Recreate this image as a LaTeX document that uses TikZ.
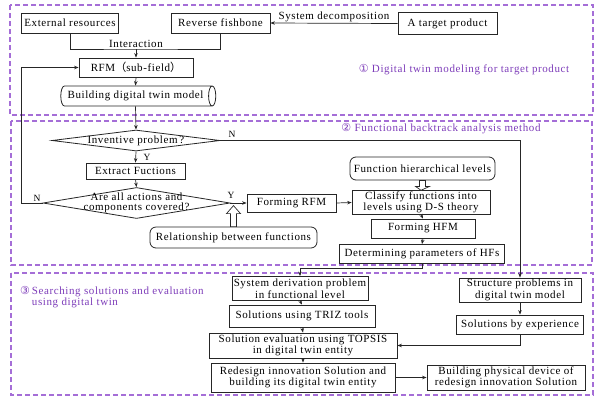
\documentclass[tikz,border=0pt]{standalone}
\usepackage{fontspec}
\setmainfont{Liberation Serif}[LetterSpace=5.5]
\newfontfamily\symf{DejaVu Sans}
\newfontfamily\cjkf{Noto Sans CJK SC}
\usetikzlibrary{arrows.meta,shapes.geometric,calc}
\definecolor{regc}{RGB}{165,110,215}
\definecolor{labc}{RGB}{125,60,185}
\begin{document}
\begin{tikzpicture}[x=1pt,y=-1pt,
  font=\fontsize{11}{11.5}\selectfont,
  box/.style={draw=black!85,line width=0.8pt,inner sep=1pt,align=center},
  rbox/.style={box,rounded corners=6pt},
  arr/.style={draw=black!85,line width=0.7pt,-{Stealth[length=4.5pt,width=3.5pt]}},
  ln/.style={draw=black!85,line width=0.7pt},
  hol/.style={draw=black!85,line width=0.7pt,fill=white},
  region/.style={draw=regc,line width=1.1pt,dash pattern=on 5pt off 3pt},
  lab/.style={text=labc},
  yn/.style={font=\fontsize{9.5}{10}\selectfont,inner sep=0pt}
]
\useasboundingbox (0,0) rectangle (600,400);
% regions
\draw[region] (10,5) rectangle (593,115);
\draw[region] (11,121) rectangle (592,265);
\draw[region] (11,273) rectangle (593,395);
\node[lab] (l1) at (464,70) {{\symf ①} Digital twin modeling for target product};
\node[lab] (l2) at (441,129) {{\symf ②} Functional backtrack analysis method};
\node[lab,anchor=north west,inner sep=0pt] (l3) at (20,286) {\begin{tabular}{@{}l@{\,}l@{}}{\symf ③}&Searching solutions and evaluation\\&using digital twin\end{tabular}};
% region 1
\node[box,minimum width=97pt,minimum height=20pt] (ext) at (70,23) {External resources};
\node[box,minimum width=99pt,minimum height=20pt] (rfb) at (220.5,23) {Reverse fishbone};
\node[box,minimum width=99pt,minimum height=22pt] (tgt) at (447.5,23.5) {A target product};
\node[box,minimum width=114pt,minimum height=19pt] (rfm) at (136,67.5) {RFM{\cjkf （}sub-field{\cjkf ）}};
\node[draw=black!85,line width=0.8pt,cylinder,shape aspect=0.6,minimum width=20pt,minimum height=155pt,inner sep=1pt] (bdt) at (135.5,96) {Building digital twin model};
\draw[arr] (tgt.west) -- node[above=0.5pt,inner sep=1pt] (sdl) {System decomposition} (rfb.east);
\coordinate (ij) at (136,49);
\draw[ln] (ext.south) |- (ij) -| (rfb.south);
\node[above=0.5pt,inner sep=1pt] (intl) at (ij) {Interaction};
\draw[arr] (ij) -- (rfm.north);
\draw[arr] (rfm.south) -- (bdt.north);
% region 2
\node[draw=black!85,line width=0.8pt,diamond,minimum width=168pt,minimum height=21pt,inner sep=0pt] (inv) at (136,140.5) {};
\node (invt) at (inv) {Inventive problem\,?};
\draw[arr] (bdt.south) -- (inv.north);
\node[box,minimum width=99pt,minimum height=16pt] (exf) at (135.5,171) {Extract Fuctions};
\draw[arr] (inv.south) -- (exf.north);
\node[yn] (y1) at (147,157) {Y};
\node[draw=black!85,line width=0.8pt,diamond,minimum width=187pt,minimum height=31pt,inner sep=0pt] (cov) at (136.5,203) {};
\node[align=center,font=\fontsize{11}{10.5}\selectfont] (covt) at (cov) {Are all actions and\\components covered?};
\draw[arr] (exf.south) -- (cov.north);
\node[box,minimum width=89pt,minimum height=18pt] (frfm) at (291.5,203) {Forming RFM};
\draw[arr] (cov.east) -- (frfm.west);
\node[yn] (y2) at (231,195) {Y};
\coordinate (lft) at (21,0);
\draw[arr] (cov.west) -- (cov.west -| lft) |- (rfm.west);
\node[yn] (n2) at (37,198) {N};
\node[box,minimum width=122pt,minimum height=24pt] (str) at (520,290) {Structure problems in\\digital twin model};
\draw[arr] (inv.east) -| (str.north);
\node[yn] (n1) at (232,134) {N};
\node[rbox,minimum width=167pt,minimum height=21pt] (rel) at (233.5,237.5) {Relationship between functions};
\draw[hol] ($(rel.north)+(-3,0)$) -- ($(rel.north)+(-3,-13)$) -- ($(rel.north)+(-7,-13)$) -- ($(rel.north)+(0,-21)$) -- ($(rel.north)+(7,-13)$) -- ($(rel.north)+(3,-13)$) -- ($(rel.north)+(3,0)$) -- cycle;
\node[rbox,minimum width=145pt,minimum height=23pt] (fhl) at (422.5,168.5) {Function hierarchical levels};
\node[box,minimum width=138pt,minimum height=23pt] (cls) at (421,202.5) {Classify functions into\\levels using D-S theory};
\draw[hol] ($(fhl.south)+(-3,0)$) -- ($(fhl.south)+(-3,6)$) -- ($(fhl.south)+(-7,6)$) -- (cls.north) -- ($(fhl.south)+(7,6)$) -- ($(fhl.south)+(3,6)$) -- ($(fhl.south)+(3,0)$) -- cycle;
\draw[arr] (frfm.east) -- (cls.west);
\node[box,minimum width=104pt,minimum height=19pt] (fhfm) at (423,228.5) {Forming HFM};
\draw[arr] (cls.south) -- (fhfm.north);
\node[box,minimum width=165pt,minimum height=19pt] (det) at (422,254) {Determining parameters of HFs};
\draw[arr] (fhfm.south) -- (det.north);
% region 3
\node[box,minimum width=136pt,minimum height=24pt] (sysd) at (300,288.5) {System derivation problem\\in functional level};
\coordinate (m3) at (0,268);
\draw[arr] (det.south) |- (m3 -| sysd.north) -- (sysd.north);
\node[box,minimum width=146pt,minimum height=22pt] (triz) at (302,316) {Solutions using TRIZ tools};
\node[box,minimum width=188pt,minimum height=25pt] (tops) at (303,345.5) {Solution evaluation using TOPSIS\\in digital twin entity};
\node[box,minimum width=184pt,minimum height=29pt] (redes) at (303,377.5) {Redesign innovation Solution and\\building its digital twin entity};
\node[box,minimum width=158pt,minimum height=25pt] (phys) at (506,377.5) {Building physical device of\\redesign innovation Solution};
\node[box,minimum width=127pt,minimum height=19pt] (solx) at (520,324.5) {Solutions by experience};
\draw[arr] (sysd.south) -- (triz.north);
\draw[arr] (triz.south) -- (tops.north);
\draw[arr] (tops.south) -- (redes.north);
\draw[arr] (redes.east) -- (phys.west);
\draw[arr] (str.south) -- (solx.north);
\draw[arr] (solx.south) |- (tops.east);
\end{tikzpicture}
\end{document}
